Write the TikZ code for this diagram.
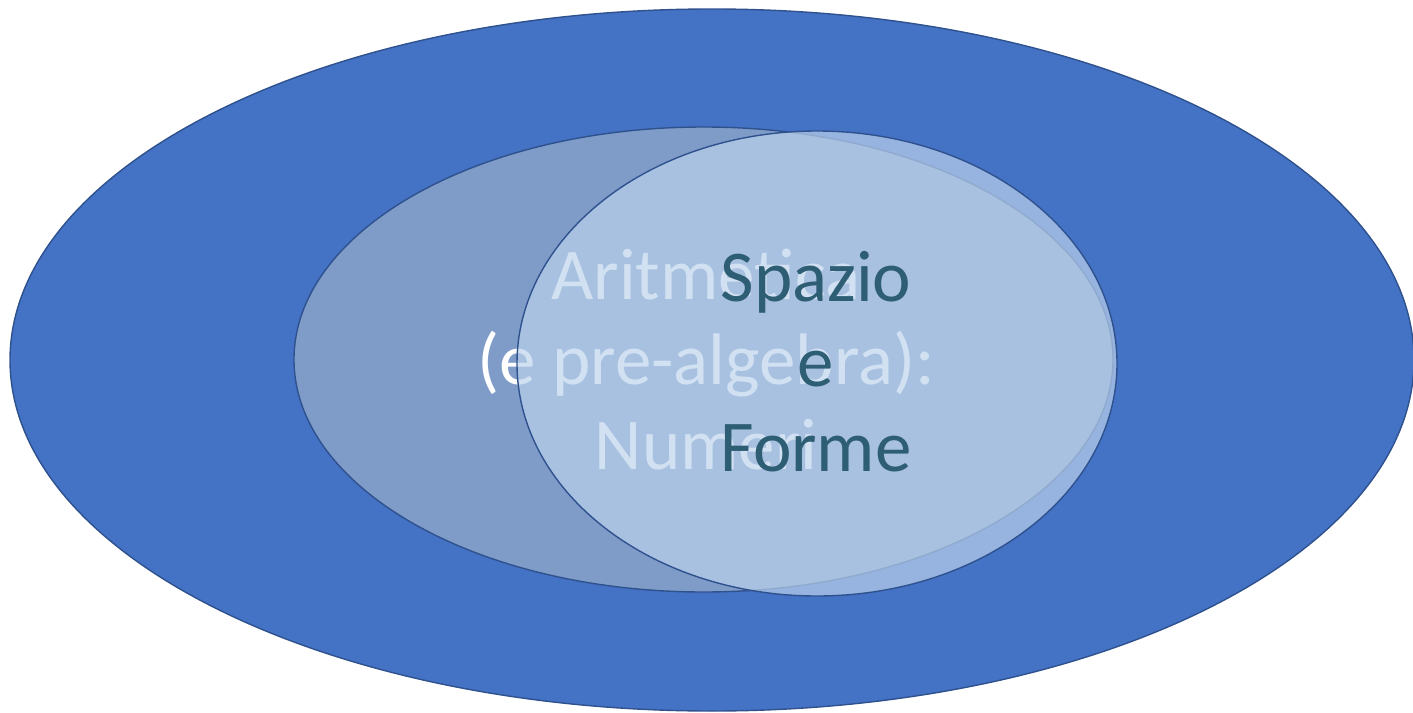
\documentclass[tikz,border=0pt]{standalone}
\usepackage{fontspec}
\setmainfont{Carlito}
\usetikzlibrary{shapes.geometric}
\definecolor{outerblue}{RGB}{68,114,196}
\definecolor{edgeblue}{RGB}{47,82,143}
\definecolor{midfill}{RGB}{127,156,200}
\definecolor{innerfill}{RGB}{189,212,237}
\definecolor{tealtext}{RGB}{46,94,116}
\tikzset{
  ell/.style={ellipse, draw=edgeblue, line width=1.4pt, inner sep=0pt},
  bigtext/.style={align=center, inner sep=0pt, font=\fontsize{73}{85}\selectfont}
}
\begin{document}
\begin{tikzpicture}[x=1pt,y=-1pt]
\useasboundingbox (0,0) rectangle (1413,712);
\node[ell, fill=outerblue, minimum width=1404pt, minimum height=702pt] (outer) at (712,360) {};
\node[ell, fill=midfill, minimum width=819pt, minimum height=465pt] (mid) at (703.5,359.5) {};
\node[bigtext, text=white] (aritm) at (706,359.5) {Aritmetica\\(e pre-algebra):\\Numeri};
\node[ell, fill=innerfill, fill opacity=0.68, minimum width=600pt, minimum height=465pt] (inner) at (817,363.5) {};
\node[bigtext, text=tealtext] (spazio) at (816,362) {Spazio\\e\\Forme};
\end{tikzpicture}
\end{document}
